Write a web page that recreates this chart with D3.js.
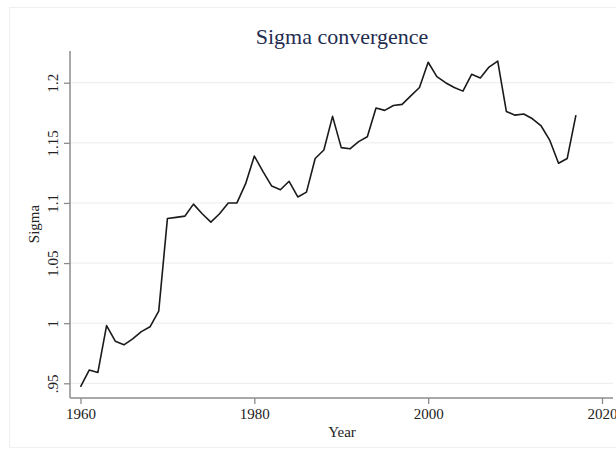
<!DOCTYPE html>
<html>
<head>
  <meta charset="utf-8">
  <title>Sigma convergence</title>
  <style>
    body { margin: 0; background: #fff; }
    svg { display: block; font-family: "Liberation Serif", "Times New Roman", serif; }
    .grid line { stroke: #ececec; stroke-width: 1; }
    .axis path { display: none; }
    .axis line { stroke: #8c8c8c; stroke-width: 1.3; }
    .axis text { fill: #222; font-size: 15px; font-family: "Liberation Serif", "Times New Roman", serif; }
  </style>
</head>
<body>
  <svg width="616" height="453"></svg>
  <script src="https://cdnjs.cloudflare.com/ajax/libs/d3/7.8.5/d3.min.js"></script>
  <script>
    // Data
    const years = d3.range(1960, 2018);
    const sigma = [
      0.947, 0.961, 0.959, 0.998, 0.985, 0.982, 0.987, 0.993, 0.997, 1.010,
      1.087, 1.088, 1.089, 1.099, 1.091, 1.084, 1.091, 1.100, 1.100, 1.116,
      1.139, 1.126, 1.114, 1.111, 1.118, 1.105, 1.109, 1.137, 1.144, 1.172,
      1.146, 1.145, 1.151, 1.155, 1.179, 1.177, 1.181, 1.182, 1.189, 1.196,
      1.217, 1.205, 1.200, 1.196, 1.193, 1.207, 1.204, 1.213, 1.218, 1.176,
      1.173, 1.174, 1.170, 1.164, 1.152, 1.133, 1.137, 1.173
    ];
    const xTicks = [1960, 1980, 2000, 2020];
    const yTicks = [0.95, 1, 1.05, 1.1, 1.15, 1.2];
    const yTickLabels = [".95", "1", "1.05", "1.1", "1.15", "1.2"];

    const svg = d3.select("svg");
    const plot = { left: 70, right: 613, top: 51, bottom: 398 };

    const x = d3.scaleLinear().domain([1960, 2020]).range([80.5, 602]);
    const y = d3.scaleLinear().domain([0.95, 1.2]).range([383.3, 82.7]);

    // faint outer frame
    svg.append("rect")
      .attr("x", 9.5).attr("y", 7.5)
      .attr("width", 620).attr("height", 440)
      .attr("fill", "none").attr("stroke", "#f0f0f0");

    // gridlines
    svg.append("g").attr("class", "grid")
      .selectAll("line").data(yTicks).enter().append("line")
      .attr("x1", plot.left).attr("x2", plot.right)
      .attr("y1", d => y(d)).attr("y2", d => y(d));

    // axes
    const xAxis = d3.axisBottom(x).tickValues(xTicks).tickSize(6).tickPadding(4)
      .tickFormat(d3.format("d"));
    svg.append("g").attr("class", "axis")
      .attr("transform", "translate(0," + plot.bottom + ")")
      .call(xAxis)
      .attr("font-family", null).attr("font-size", null);

    const yAxis = d3.axisLeft(y).tickValues(yTicks).tickSize(6).tickPadding(4)
      .tickFormat((d, i) => yTickLabels[i]);
    const gy = svg.append("g").attr("class", "axis")
      .attr("transform", "translate(" + plot.left + ",0)")
      .call(yAxis)
      .attr("font-family", null).attr("font-size", null);
    gy.selectAll(".tick text")
      .attr("x", null).attr("dy", null)
      .attr("text-anchor", "middle")
      .attr("transform", "translate(-12,0) rotate(-90)");

    // axis lines
    svg.append("line")
      .attr("x1", plot.left).attr("x2", plot.left)
      .attr("y1", plot.top).attr("y2", plot.bottom)
      .attr("stroke", "#8c8c8c").attr("stroke-width", 1.5);
    svg.append("line")
      .attr("x1", plot.left).attr("x2", plot.right)
      .attr("y1", plot.bottom).attr("y2", plot.bottom)
      .attr("stroke", "#8c8c8c").attr("stroke-width", 1.5);

    // series
    const line = d3.line()
      .x((d, i) => x(years[i]))
      .y(d => y(d));
    svg.append("path")
      .datum(sigma)
      .attr("d", line)
      .attr("fill", "none")
      .attr("stroke", "#1a1a1a")
      .attr("stroke-width", 1.6)
      .attr("stroke-linejoin", "round");

    // titles
    svg.append("text")
      .attr("x", 342).attr("y", 44)
      .attr("text-anchor", "middle")
      .attr("font-size", 22)
      .attr("fill", "#1f2d50")
      .text("Sigma convergence");

    svg.append("text")
      .attr("x", 342).attr("y", 437)
      .attr("text-anchor", "middle")
      .attr("font-size", 15)
      .attr("fill", "#222")
      .text("Year");

    svg.append("text")
      .attr("transform", "translate(39,224) rotate(-90)")
      .attr("text-anchor", "middle")
      .attr("font-size", 15)
      .attr("fill", "#222")
      .text("Sigma");
  </script>
</body>
</html>
